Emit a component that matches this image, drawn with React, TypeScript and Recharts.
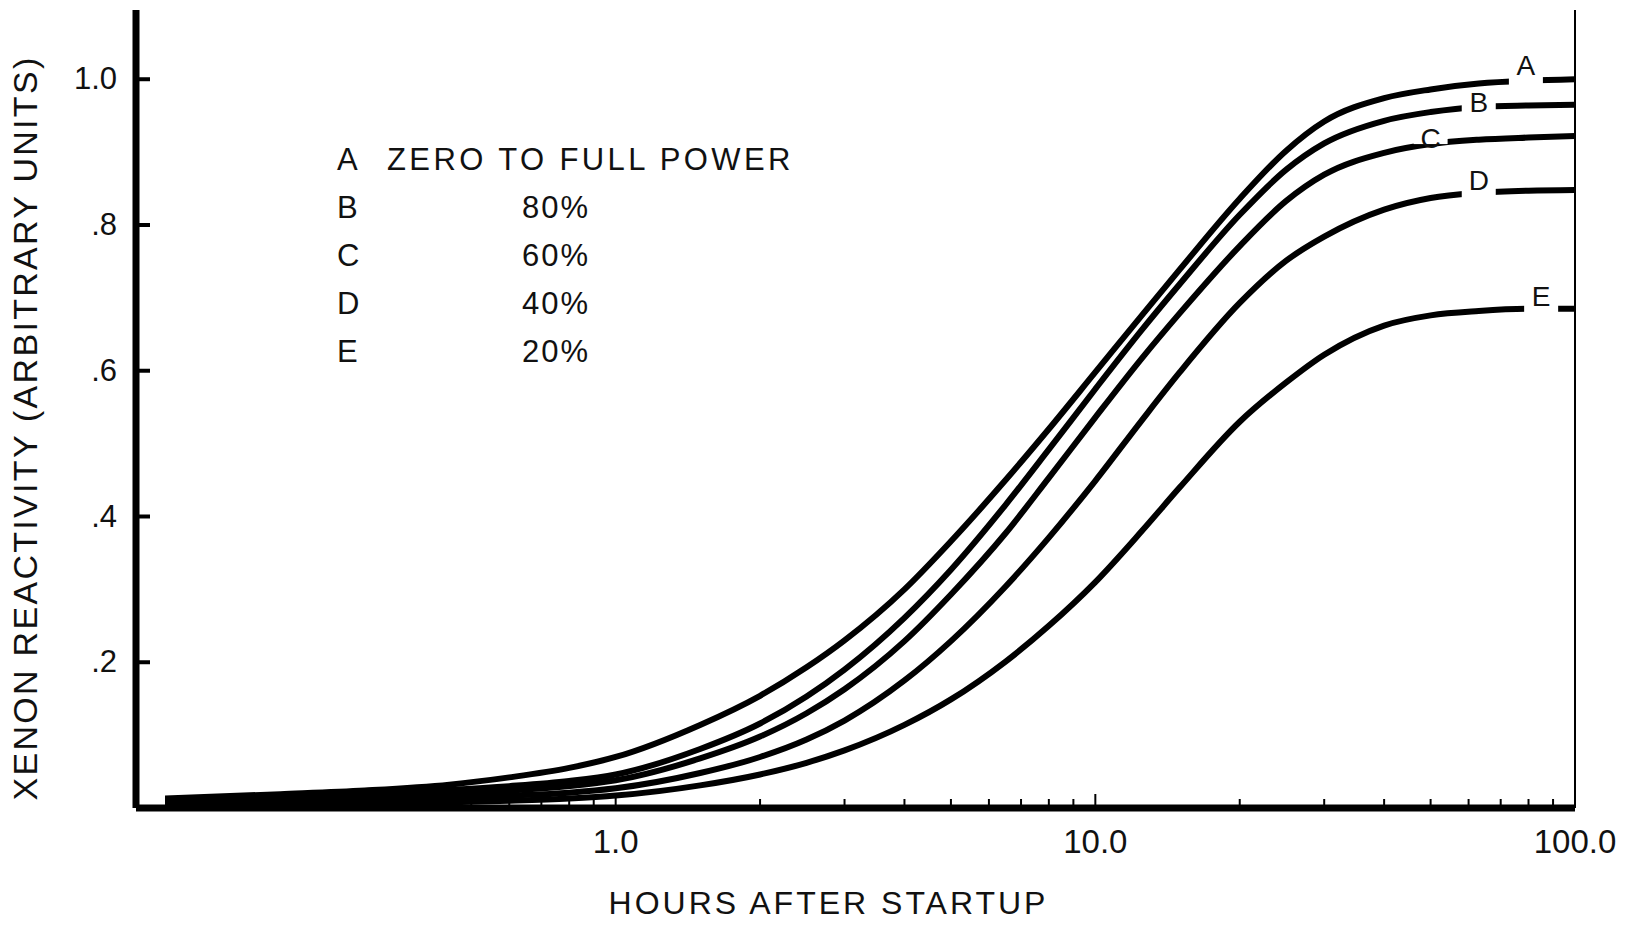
import { LineChart, Line, XAxis, YAxis, ReferenceDot, ReferenceLine } from 'recharts';

const FONT = '"Liberation Sans", Arial, Helvetica, sans-serif';

// hours after startup (log axis)
const hours = [0.115, 0.2, 0.3, 0.45, 0.6, 0.8, 1, 1.5, 2, 2.5, 3, 4, 5, 6.5, 8, 10, 12.5, 15, 20, 25, 30, 40, 50, 63, 80, 100];

// xenon reactivity, arbitrary units
const curveA = [0.013, 0.019, 0.024, 0.032, 0.042, 0.055, 0.07, 0.114, 0.154, 0.193, 0.23, 0.3, 0.366, 0.45, 0.52, 0.598, 0.676, 0.739, 0.836, 0.902, 0.942, 0.974, 0.986, 0.994, 0.998, 1.0];
const curveB = [0.012, 0.016, 0.02, 0.025, 0.03, 0.037, 0.046, 0.081, 0.116, 0.153, 0.19, 0.261, 0.327, 0.416, 0.492, 0.575, 0.656, 0.719, 0.814, 0.876, 0.912, 0.943, 0.955, 0.962, 0.964, 0.965];
const curveC = [0.01, 0.013, 0.016, 0.02, 0.024, 0.03, 0.038, 0.068, 0.098, 0.13, 0.163, 0.229, 0.293, 0.377, 0.453, 0.536, 0.617, 0.679, 0.771, 0.833, 0.869, 0.899, 0.911, 0.917, 0.92, 0.922];
const curveD = [0.007, 0.009, 0.011, 0.014, 0.017, 0.021, 0.027, 0.048, 0.07, 0.094, 0.12, 0.175, 0.229, 0.304, 0.371, 0.449, 0.532, 0.598, 0.693, 0.751, 0.784, 0.821, 0.837, 0.844, 0.847, 0.848];
const curveE = [0.004, 0.005, 0.006, 0.008, 0.01, 0.013, 0.017, 0.031, 0.046, 0.062, 0.079, 0.114, 0.149, 0.201, 0.25, 0.31, 0.38, 0.44, 0.53, 0.584, 0.622, 0.662, 0.676, 0.682, 0.685, 0.685];

const curveNames = ['A', 'B', 'C', 'D', 'E'];
const powerLevels = ['ZERO TO FULL POWER', '80%', '60%', '40%', '20%'];
const labelHours = [79, 63, 50, 63, 85];
const labelDy = [-12, 0, 5, -7, -10];

const xTicks = [0.2, 0.3, 0.4, 0.5, 0.6, 0.7, 0.8, 0.9, 1, 2, 3, 4, 5, 6, 7, 8, 9, 10, 20, 30, 40, 50, 60, 70, 80, 90, 100];
const xLabelTicks = [1, 10, 100];
const xLabelText = ['1.0', '10.0', '100.0'];
const yTicks = [0.2, 0.4, 0.6, 0.8, 1.0];
const yLabelText = ['.2', '.4', '.6', '.8', '1.0'];

const allCurves = [curveA, curveB, curveC, curveD, curveE];
const rows = hours.map((h, i) => {
  const row: Record<string, number> = { hours: h };
  curveNames.forEach((n, k) => (row[n] = allCurves[k][i]));
  return row;
});

function XTick({ x, y, payload }: any) {
  const idx = xLabelTicks.indexOf(payload.value);
  const major = idx >= 0;
  return (
    <g>
      <line x1={x} x2={x} y1={y - 3} y2={y - (major ? 14 : 9)} stroke="#000" strokeWidth={2} />
      {major && (
        <text x={x} y={y + 36} textAnchor="middle" dominantBaseline="middle" fontSize={33} fontFamily={FONT} fill="#111">
          {xLabelText[idx]}
        </text>
      )}
    </g>
  );
}

function YTick({ x, y, payload }: any) {
  const idx = yTicks.indexOf(payload.value);
  return (
    <g>
      <line x1={x} x2={x + 14} y1={y} y2={y} stroke="#000" strokeWidth={4} />
      <text x={x - 19} y={y + 2} textAnchor="end" dominantBaseline="middle" fontSize={31} fontFamily={FONT} fill="#111">
        {yLabelText[idx]}
      </text>
    </g>
  );
}

function curveTag(k: number) {
  return (props: any) => {
    const { cx, cy } = props;
    return (
      <g>
        <rect x={cx - 17} y={cy - 8} width={34} height={16} fill="#fff" />
        <text x={cx} y={cy + labelDy[k]} textAnchor="middle" dominantBaseline="middle" fontSize={28} fontFamily={FONT} fill="#111">
          {curveNames[k]}
        </text>
      </g>
    );
  };
}

export default function App() {
  return (
    <div style={{ position: 'absolute', left: 0, top: 0, width: 1633, height: 926, background: '#fff' }}>
      <LineChart width={1633} height={926} data={rows} margin={{ top: 10, right: 58, bottom: 0, left: 0 }}>
        <XAxis
          dataKey="hours"
          type="number"
          scale="log"
          domain={[0.1, 100]}
          allowDataOverflow
          ticks={xTicks}
          interval={0}
          height={118}
          tickSize={0}
          tickMargin={0}
          tickLine={false}
          tick={<XTick />}
          axisLine={{ stroke: '#000', strokeWidth: 7 }}
          label={{
            value: 'HOURS AFTER STARTUP',
            content: ({ viewBox, value }: any) => (
              <text
                x={viewBox.x + viewBox.width / 2 - 27}
                y={viewBox.y + 98}
                textAnchor="middle"
                dominantBaseline="middle"
                fontSize={32}
                letterSpacing={3}
                fontFamily={FONT}
                fill="#111"
              >
                {value}
              </text>
            ),
          }}
        />
        <XAxis xAxisId="top" orientation="top" dataKey="hours" type="number" scale="log" domain={[0.1, 100]} allowDataOverflow height={0} tick={false} tickLine={false} axisLine={{ stroke: '#000', strokeWidth: 5 }} />
        <YAxis
          type="number"
          domain={[0, 1.095]}
          allowDataOverflow
          ticks={yTicks}
          interval={0}
          width={136}
          tickSize={0}
          tickMargin={0}
          tickLine={false}
          tick={<YTick />}
          axisLine={{ stroke: '#000', strokeWidth: 7 }}
          label={{
            value: 'XENON REACTIVITY (ARBITRARY UNITS)',
            content: ({ viewBox, value }: any) => {
              const cx = viewBox.x + 28;
              const cy = viewBox.y + viewBox.height / 2 + 19;
              return (
                <text
                  x={cx}
                  y={cy}
                  transform={`rotate(-90 ${cx} ${cy})`}
                  textAnchor="middle"
                  dominantBaseline="middle"
                  fontSize={34}
                  letterSpacing={2.3}
                  fontFamily={FONT}
                  fill="#111"
                >
                  {value}
                </text>
              );
            },
          }}
        />
        <ReferenceLine x={100} stroke="#000" strokeWidth={2} />
        {curveNames.map((n) => (
          <Line key={n} dataKey={n} type="monotone" stroke="#000" strokeWidth={6} dot={false} activeDot={false} isAnimationActive={false} />
        ))}
        {curveNames.map((n, k) => (
          <ReferenceDot key={'tag' + n} x={labelHours[k]} y={allCurves[k][allCurves[k].length - 1]} r={1} shape={curveTag(k)} />
        ))}
      </LineChart>
      <div style={{ position: 'absolute', left: 337, top: 136, fontFamily: FONT, fontSize: 31, lineHeight: '48px', color: '#111' }}>
        {curveNames.map((n, k) => (
          <div key={n} style={{ position: 'relative', height: 48, whiteSpace: 'nowrap' }}>
            <span style={{ position: 'absolute', left: 0 }}>{n}</span>
            <span style={{ position: 'absolute', left: k === 0 ? 50 : 185, letterSpacing: k === 0 ? 3.4 : 2 }}>{powerLevels[k]}</span>
          </div>
        ))}
      </div>
    </div>
  );
}
